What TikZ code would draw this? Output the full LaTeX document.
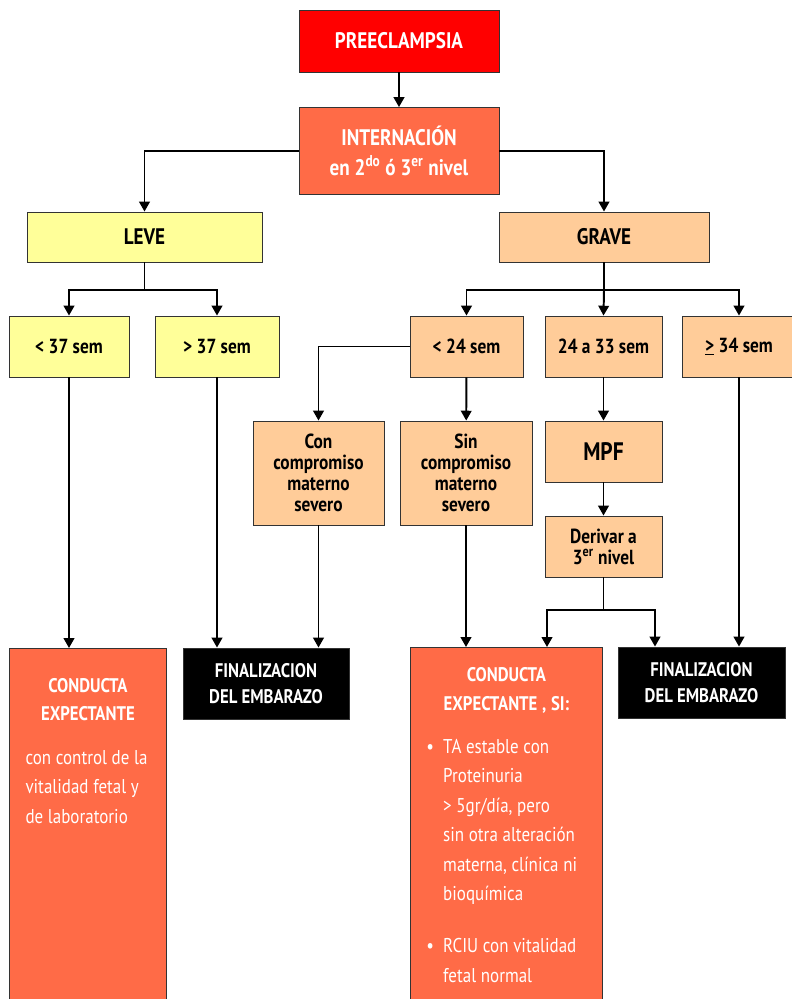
\documentclass[tikz,border=0pt]{standalone}
\usepackage{fontspec}
\setmainfont{PT Sans}[FakeStretch=0.85]
\usetikzlibrary{arrows.meta}
\definecolor{rojo}{HTML}{FF0000}
\definecolor{coral}{HTML}{FF6B47}
\definecolor{amarillo}{HTML}{FFFF99}
\definecolor{durazno}{HTML}{FFCC99}
\newcommand\hdr{\bfseries\fontsize{16}{21}\selectfont}
\newcommand\lbl{\bfseries\fontsize{14.5}{15}\selectfont}
\newcommand\txt{\fontsize{14.2}{21}\selectfont}
\tikzset{
  caja/.style={draw=black!80, line width=0.6pt, align=center, inner sep=1pt, font=\lbl},
  flecha/.style={line width=1.4pt}
}
\begin{document}
\begin{tikzpicture}[>={Triangle[length=7pt,width=7.5pt]}]
\useasboundingbox (0,0) rectangle (19.775,-24.975);
\fill[white] (0,0) rectangle (19.775,-24.975);
\node[caja, fill=rojo, text=white, font=\hdr, minimum width=5cm, minimum height=1.55cm] (pre) at (9.975,-1.025) {PREECLAMPSIA};
\node[caja, fill=coral, text=white, font=\hdr, minimum width=5cm, minimum height=2.175cm] (intern) at (9.975,-3.775) {INTERNACIÓN\\en 2\textsuperscript{do} ó 3\textsuperscript{er} nivel};
\node[caja, fill=amarillo, font=\hdr, minimum width=5.875cm, minimum height=1.25cm] (leve) at (3.6125,-5.925) {LEVE};
\node[caja, fill=durazno, font=\hdr, minimum width=5.25cm, minimum height=1.25cm] (grave) at (15.1,-5.925) {GRAVE};
\node[caja, fill=amarillo, minimum width=3cm, minimum height=1.525cm] (menos37) at (1.725,-8.6625) {< 37 sem};
\node[caja, fill=amarillo, minimum width=3.1cm, minimum height=1.525cm] (mas37) at (5.425,-8.6625) {> 37 sem};
\node[caja, fill=durazno, minimum width=2.825cm, minimum height=1.525cm] (menos24) at (11.6625,-8.6625) {< 24 sem};
\node[caja, fill=durazno, minimum width=2.925cm, minimum height=1.525cm] (entre24) at (15.0875,-8.6625) {24 a 33 sem};
\node[caja, fill=durazno, minimum width=2.85cm, minimum height=1.525cm] (mas34) at (18.475,-8.6625) {\underline{>} 34 sem};
\node[caja, fill=durazno, minimum width=3.275cm, minimum height=2.6cm] (con) at (7.9625,-11.825) {Con\\compromiso\\materno\\severo};
\node[caja, fill=durazno, minimum width=3.3cm, minimum height=2.6cm] (sin) at (11.65,-11.825) {Sin\\compromiso\\materno\\severo};
\node[caja, fill=durazno, font=\bfseries\fontsize{18}{19}\selectfont, minimum width=2.925cm, minimum height=1.525cm] (mpf) at (15.0875,-11.2875) {MPF};
\node[caja, fill=durazno, minimum width=2.925cm, minimum height=1.525cm] (deriv) at (15.0875,-13.6625) {Derivar a\\3\textsuperscript{er} nivel};
\node[caja, fill=black, text=white, font=\bfseries\fontsize{14}{18.5}\selectfont, minimum width=4.15cm, minimum height=1.775cm] (fin1) at (6.65,-17.0875) {FINALIZACION\\DEL EMBARAZO};
\node[caja, fill=black, text=white, font=\bfseries\fontsize{14}{18.5}\selectfont, minimum width=4.175cm, minimum height=1.775cm] (fin2) at (17.5375,-17.0625) {FINALIZACION\\DEL EMBARAZO};
\node[caja, fill=coral, anchor=north west, minimum width=3.925cm, minimum height=9.1cm] (cond1) at (0.225,-16.2) {};
\node[caja, fill=coral, anchor=north west, minimum width=4.8cm, minimum height=9.1cm] (cond2) at (10.25,-16.175) {};
\node[anchor=north, text=white, text width=3.6cm, align=left, inner sep=0pt] (cond1txt) at ([yshift=-0.75cm]cond1.north) {%
{\centering\bfseries\fontsize{14}{20}\selectfont CONDUCTA\\EXPECTANTE\par}\vspace{10pt}
{\txt\leftskip=0.24cm con control de la\\vitalidad fetal y\\de laboratorio\par}};
\node[anchor=north, text=white, text width=4.6cm, align=left, inner sep=0pt] (cond2txt) at ([yshift=-0.5cm]cond2.north) {%
{\centering\bfseries\fontsize{14}{21}\selectfont CONDUCTA\\EXPECTANTE , SI:\par}\vspace{9pt}
{\txt\leftskip=0.3cm\noindent\makebox[0.42cm][l]{\textbullet}\parbox[t]{4cm}{\txt TA estable con\\Proteinuria\\> 5gr/día, pero\\sin otra alteración\\materna, clínica ni\\bioquímica}\par}\vspace{23pt}
{\txt\leftskip=0.3cm\noindent\makebox[0.42cm][l]{\textbullet}\parbox[t]{4cm}{\txt RCIU con vitalidad\\fetal normal}\par}};
\coordinate (jl) at (3.6125,-7.25);
\coordinate (jg) at (15.1,-7.25);
\coordinate (jd) at (15.0875,-15.25);
\coordinate (jd1) at (13.675,-15.25);
\coordinate (jd2) at (16.375,-15.25);
\draw[flecha,->] (pre) -- (intern);
\draw[flecha,->] (intern.west) -| (leve.north);
\draw[flecha,->] (intern.east) -| (grave.north);
\draw[flecha] (leve.south) -- (jl);
\draw[flecha,->] (jl) -| (menos37.north);
\draw[flecha,->] (jl) -| (mas37.north);
\draw[flecha] (grave.south) -- (jg);
\draw[flecha,->] (jg) -| (menos24.north);
\draw[flecha,->] (jg) -- (entre24.north);
\draw[flecha,->] (jg) -| (mas34.north);
\draw[flecha,->] (menos24.west) -| (con.north);
\draw[flecha,->] (menos24) -- (sin);
\draw[flecha,->] (entre24) -- (mpf);
\draw[flecha,->] (mpf) -- (deriv);
\draw[flecha] (deriv.south) -- (jd);
\draw[flecha,->] (jd) -| (jd1) -- (jd1 |- cond2.north);
\draw[flecha,->] (jd) -| (jd2) -- (jd2 |- fin2.north);
\draw[flecha,->] (menos37.south) -- (menos37.south |- cond1.north);
\draw[flecha,->] (mas37.south) -- (mas37.south |- fin1.north);
\draw[flecha,->] (con.south) -- (con.south |- fin1.north);
\draw[flecha,->] (sin.south) -- (sin.south |- cond2.north);
\draw[flecha,->] (mas34.south) -- (mas34.south |- fin2.north);
\end{tikzpicture}
\end{document}
